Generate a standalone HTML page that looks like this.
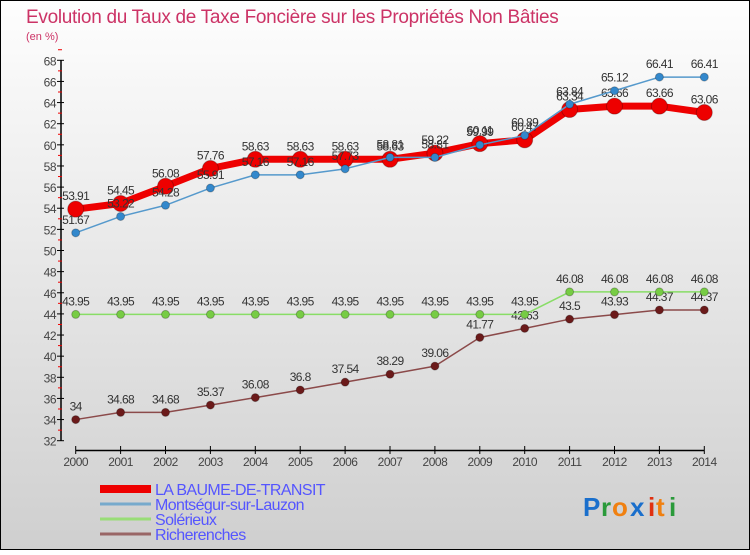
<!DOCTYPE html>
<html><head><meta charset="utf-8"><style>
html,body{margin:0;padding:0}
body{width:750px;height:550px;overflow:hidden;font-family:"Liberation Sans",sans-serif}
</style></head><body>
<svg width="750" height="550" xmlns="http://www.w3.org/2000/svg">
<defs><linearGradient id="bg" x1="0" y1="0" x2="0" y2="1"><stop offset="0" stop-color="#fefefe"/><stop offset="1" stop-color="#cfcfcf"/></linearGradient></defs>
<rect x="0.5" y="0.5" width="749" height="549" fill="url(#bg)" stroke="#000"/>
<text x="26" y="23" font-size="19" fill="#cc3366" style="letter-spacing:-0.3px">Evolution du Taux de Taxe Foncière sur les Propriétés Non Bâties</text>
<text x="26" y="40" font-size="11" fill="#cc3366">(en %)</text>
<g id="axes"></g>
<g id="series"></g>
<g id="legend"></g>
<g font-size="26" font-weight="bold" font-family="'Liberation Sans',sans-serif">
<text x="583" y="516" fill="#1a6fcc">P</text><text x="601" y="516" fill="#2a9a3a">r</text><text x="612" y="516" fill="#f08010">o</text><text x="630" y="516" fill="#1a6fcc">x</text><text x="648" y="516" fill="#e03010">i</text><text x="656" y="516" fill="#f08010">t</text><text x="669" y="516" fill="#2a9a3a">i</text>
</g>
</svg>
<script>
const years=[2000,2001,2002,2003,2004,2005,2006,2007,2008,2009,2010,2011,2012,2013,2014];
const baume=[53.91,54.45,56.08,57.76,58.63,58.63,58.63,58.63,59.22,60.11,60.47,63.34,63.66,63.66,63.06];
const montsegur=[51.67,53.22,54.28,55.91,57.16,57.16,57.73,58.81,58.81,59.99,60.89,63.84,65.12,66.41,66.41];
const solerieux=[43.95,43.95,43.95,43.95,43.95,43.95,43.95,43.95,43.95,43.95,43.95,46.08,46.08,46.08,46.08];
const richerenches=[34,34.68,34.68,35.37,36.08,36.8,37.54,38.29,39.06,41.77,42.63,43.5,43.93,44.37,44.37];
const yTicks=[32,34,36,38,40,42,44,46,48,50,52,54,56,58,60,62,64,66,68];
const seriesNames=["LA BAUME-DE-TRANSIT","Montségur-sur-Lauzon","Solérieux","Richerenches"];
const NS="http://www.w3.org/2000/svg";
const X=y=>75.7+(y-2000)*44.9;
const Y=v=>440.7-(v-32)*(380.4/36);
function mk(tag,attrs,parent,txt){const e=document.createElementNS(NS,tag);for(const k in attrs)e.setAttribute(k,attrs[k]);if(txt!==undefined)e.textContent=txt;parent.appendChild(e);return e;}
const axes=document.getElementById('axes');
const ya=mk('line',{x1:61,y1:Y(68),x2:61,y2:Y(32),stroke:'#000','stroke-width':1.5},axes);

yTicks.forEach(t=>{
 mk('line',{x1:57,y1:Y(t),x2:64,y2:Y(t),stroke:'#000'},axes);
 mk('line',{x1:58,y1:Y(t+1),x2:62,y2:Y(t+1),stroke:'#e00'},axes);
 const l=mk('text',{x:56,y:Y(t)+5,'font-size':12,fill:'#444','text-anchor':'end','letter-spacing':'-0.5'},axes,String(t));
 
});
const xa=mk('line',{x1:75.7,y1:450.5,x2:X(2014),y2:450.5,stroke:'#000','stroke-width':1.5},axes);

years.forEach(y=>{
 mk('line',{x1:X(y),y1:446,x2:X(y),y2:454,stroke:'#000'},axes);
 const l=mk('text',{x:X(y),y:466,'font-size':12,fill:'#444','text-anchor':'middle','letter-spacing':'-0.5'},axes,String(y));
 
});
const sg=document.getElementById('series');
function draw(vals,color,lw,r,mcolor,name){
 const g=mk('g',{},sg);
 
 mk('polyline',{points:vals.map((v,i)=>X(years[i])+','+Y(v)).join(' '),fill:'none',stroke:color,'stroke-width':lw,'stroke-linejoin':'round'},g);
 vals.forEach((v,i)=>{
  const c=mk('circle',{cx:X(years[i]),cy:Y(v),r:r,fill:mcolor,stroke:'rgba(0,0,0,0.25)'},g);
  
  const t=mk('text',{x:X(years[i]),y:Y(v)-9,'font-size':12,fill:'#333','text-anchor':'middle','letter-spacing':'-0.6'},g,String(v));
  
 });
}
draw(richerenches,'#8b4a4a',1.5,4,'#6b1a1a','series-richerenches');
draw(solerieux,'#88dd66',1.5,4,'#77cc44','series-solerieux');
draw(baume,'#ee0000',7,8,'#ee0000','series-la-baume-de-transit');
draw(montsegur,'#5599cc',1.5,4,'#3388cc','series-montsegur-sur-lauzon');
const lg=document.getElementById('legend');
const lc=['#ee0000','#77aacc','#99dd77','#996666'],lw=[8,3,3,3],ly=[493,508,523,538];
seriesNames.forEach((n,i)=>{
 const g=mk('g',{},lg);
 
 mk('line',{x1:100,y1:ly[i]-4,x2:151,y2:ly[i]-4,stroke:lc[i],'stroke-width':lw[i]},g);
 mk('text',{x:155,y:ly[i]+2,'font-size':16,fill:'#5555ff','letter-spacing':'-0.6'},g,n);
});
</script>
</body></html>
